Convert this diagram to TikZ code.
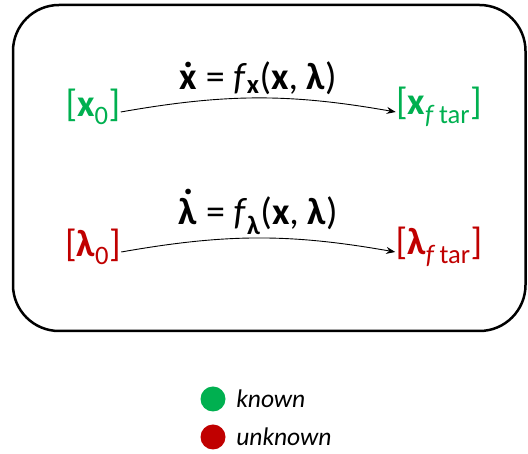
\documentclass[tikz,border=0pt]{standalone}
\usepackage{fontspec}
\setmainfont{Carlito}
\usepackage{tikz}
\usetikzlibrary{arrows.meta,positioning}
\definecolor{knowngreen}{RGB}{0,176,80}
\definecolor{unknownred}{RGB}{192,0,0}
% bold letter with a dot above it
\newcommand{\dotbf}[1]{\leavevmode\setbox0\hbox{\bfseries #1}%
  \hbox to \wd0{\hss\raisebox{\dimexpr\ht0+0.1em\relax}[0pt][0pt]{\bfseries .}\hss}\llap{\box0}}

\begin{document}
\begin{tikzpicture}[x=1pt,y=1pt,>={Stealth[length=9pt,width=7pt]},thick]
\tikzstyle{state}=[inner sep=0pt,font=\fontsize{38}{42}\selectfont]
\tikzstyle{eqn}=[inner sep=3pt,font=\fontsize{38}{42}\selectfont,text=black]
\tikzstyle{flow}=[->,line width=0.9pt,bend left=10]
\tikzstyle{dot}=[circle,inner sep=0pt,minimum size=25pt]
\tikzstyle{legend}=[anchor=west,inner sep=0pt,font=\fontsize{25.5}{28}\selectfont\itshape]
\useasboundingbox (0,0) rectangle (528,454);
\draw[line width=2.5pt,rounded corners=46pt] (13,123) rectangle (525.5,449);
% states
\node[state,text=knowngreen] (x0) at (93,347) {[\textbf{x}\textsubscript{0}]};
\node[state,text=knowngreen] (xf) at (439,347) {[\textbf{x}\textsubscript{\textit{f}\,tar}]};
\node[state,text=unknownred] (l0) at (93,207) {[\textbf{λ}\textsubscript{0}]};
\node[state,text=unknownred] (lf) at (439,207) {[\textbf{λ}\textsubscript{\textit{f}\,tar}]};
\draw[flow] ([yshift=-5pt]x0.east) to node[eqn,above]{\dotbf{x} = \textit{f}\textsubscript{\bfseries x}(\textbf{x}, \textbf{λ})} ([yshift=-5pt]xf.west);
\draw[flow] ([yshift=-5pt]l0.east) to node[eqn,above]{\dotbf{λ} = \textit{f}\textsubscript{\bfseries λ}(\textbf{x}, \textbf{λ})} ([yshift=-5pt]lf.west);
% legend
\node[dot,fill=knowngreen] (kdot) at (213,55) {};
\node[dot,fill=unknownred] (udot) at (213,17) {};
\node[legend,right=10pt of kdot] (ktxt) {known};
\node[legend,right=10pt of udot] (utxt) {unknown};
\end{tikzpicture}
\end{document}
